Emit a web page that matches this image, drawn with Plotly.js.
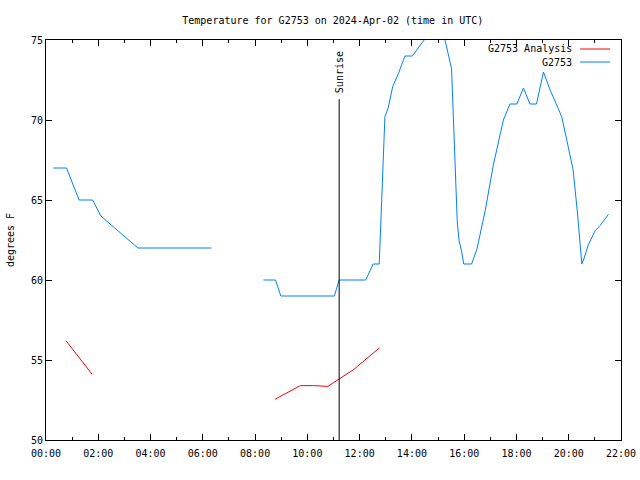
<!DOCTYPE html>
<html>
<head>
<meta charset="utf-8">
<script src="https://cdn.plot.ly/plotly-3.0.1.min.js"></script>
<style>html,body{margin:0;padding:0;background:#fff;}#chart{width:640px;height:480px;}</style>
</head>
<body>
<div id="chart"></div>
<script>
const DAY = "2024-04-02";

// G2753 observations (UTC time, degrees F); null = gap in data
const obsTimes = ["00:17","00:47","01:16","01:47","02:06","03:31","06:20",null,
  "08:19","08:47","08:59","11:02","11:13","12:14","12:31","12:45","12:58","13:06","13:16","13:29","13:44",
  "14:01","14:28","14:45","15:00","15:16","15:31","15:44","15:48","15:54","15:59","16:17","16:29","16:48",
  "17:07","17:30","17:45","18:01","18:16","18:31","18:46","19:02","19:17","19:44","19:59","20:10","20:20",
  "20:30","20:34","20:45","21:01","21:12","21:31"];
const obsTemps = [67,67,65,65,64,62,62,null,
  60,60,59,59,60,60,61,61,70.2,70.8,72.1,72.9,74,
  74,75,76,76,75,73.2,63.7,62.5,61.8,61,61,61.9,64.3,
  67.2,70,71,71,72,71,71,73,71.9,70.2,68.3,66.9,64.2,
  61,61.25,62.2,63.1,63.4,64.1];

// G2753 Analysis
const anaTimes = ["00:46","01:46",null,"08:46","09:44","10:14","10:47","11:46","12:45"];
const anaTemps = [56.2,54.1,null,52.55,53.4,53.4,53.35,54.4,55.75];

const sunriseTime = "11:13";
const sunriseTop = 71.3;
const sunriseLabelY = 73.0;

const xTickStart = "00:00", xTickEnd = "22:00";
const yRange = [50, 75];

const seriesNames = ["G2753 Analysis", "G2753"];
const seriesColors = ["#ff0000", "#0080ff"];

const toDate = t => t === null ? null : DAY + " " + t;

const FONT = {family: "DejaVu Sans Mono, monospace", size: 10, color: "#000"};

const traces = [
  {x: anaTimes.map(toDate), y: anaTemps, name: seriesNames[0], mode: "lines",
   line: {color: seriesColors[0], width: 1}, connectgaps: false},
  {x: obsTimes.map(toDate), y: obsTemps, name: seriesNames[1], mode: "lines",
   line: {color: seriesColors[1], width: 1}, connectgaps: false}
];

// gnuplot-style key: text right-aligned, line sample to the right
const keyTextX = 0.918, keyLineX0 = 0.929, keyLineX1 = 0.981;
const keyRowsY = [0.9775, 0.945];

const shapes = [
  {type: "line", xref: "x", yref: "y", x0: toDate(sunriseTime), x1: toDate(sunriseTime),
   y0: yRange[0], y1: sunriseTop, line: {color: "#000", width: 1}}
];
const annotations = [
  {x: toDate(sunriseTime), y: sunriseLabelY, xref: "x", yref: "y", text: "Sunrise",
   textangle: -90, showarrow: false, font: FONT, xanchor: "center", yanchor: "middle"}
];
seriesNames.forEach((nm, i) => {
  annotations.push({x: keyTextX, y: keyRowsY[i], xref: "paper", yref: "paper", text: nm,
    showarrow: false, font: FONT, xanchor: "right", yanchor: "middle"});
  shapes.push({type: "line", xref: "paper", yref: "paper", x0: keyLineX0, x1: keyLineX1,
    y0: keyRowsY[i], y1: keyRowsY[i], line: {color: seriesColors[i], width: 1}});
});

const layout = {
  width: 640, height: 480,
  margin: {l: 46, r: 19, t: 40, b: 40},
  paper_bgcolor: "#fff", plot_bgcolor: "#fff",
  font: FONT,
  title: {text: "Temperature for G2753 on 2024-Apr-02 (time in UTC)", font: FONT,
          x: 0.52, xanchor: "center", y: 1 - 20/480, yanchor: "middle"},
  xaxis: {
    type: "date", range: [toDate(xTickStart), toDate(xTickEnd)],
    tickformat: "%H:%M", dtick: 7200000, tick0: toDate(xTickStart),
    ticks: "inside", ticklen: 6, tickcolor: "#000", tickwidth: 1,
    minor: {dtick: 3600000, ticks: "inside", ticklen: 3, tickcolor: "#000", showgrid: false},
    showline: true, linecolor: "#000", linewidth: 1, mirror: "allticks",
    showgrid: false, zeroline: false, tickfont: FONT, ticklabelstandoff: 4
  },
  yaxis: {
    range: yRange, dtick: 5, tick0: 50,
    ticks: "inside", ticklen: 6, tickcolor: "#000", tickwidth: 1,
    showline: true, linecolor: "#000", linewidth: 1, mirror: "allticks",
    showgrid: false, zeroline: false, tickfont: FONT,
    title: {text: "degrees F", font: FONT, standoff: 14}
  },
  showlegend: false,
  shapes: shapes,
  annotations: annotations
};

Plotly.newPlot("chart", traces, layout, {displayModeBar: false, staticPlot: true});
</script>
</body>
</html>
